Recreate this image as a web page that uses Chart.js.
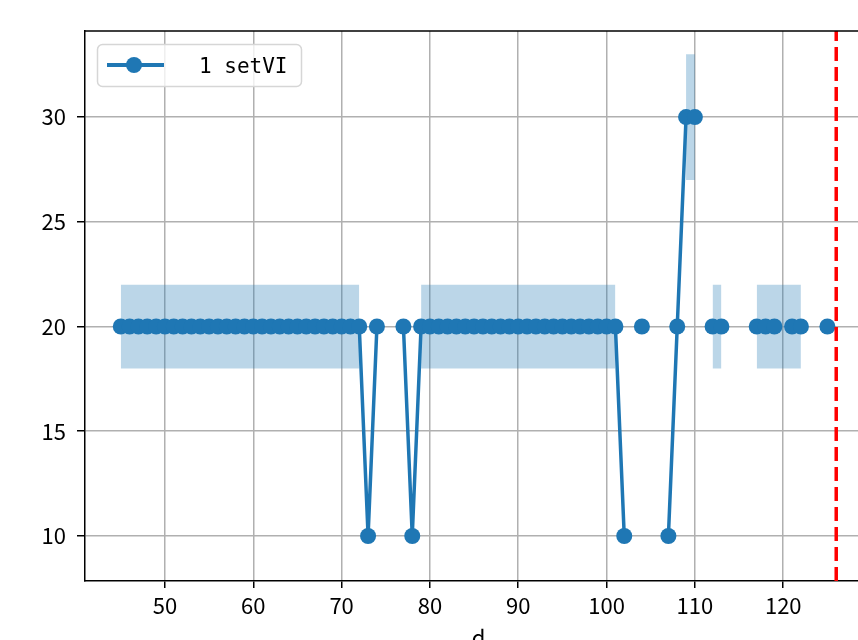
<!DOCTYPE html>
<html>
<head>
<meta charset="utf-8">
<script src="https://cdn.jsdelivr.net/npm/chart.js@4/dist/chart.umd.min.js"></script>
<style>
  html, body { margin: 0; padding: 0; background: #fff; overflow: hidden; }
  #wrap { width: 858px; height: 640px; overflow: hidden; }
</style>
</head>
<body>
<div id="wrap"><canvas id="myChart" width="880" height="640"></canvas></div>
<script>
// x positions (d) and series values, null = no sample
const days = [];
for (let d = 45; d <= 125; d++) days.push(d);

const setVI = [
  20,20,20,20,20,20,20,20,20,20, // 45-54
  20,20,20,20,20,20,20,20,20,20, // 55-64
  20,20,20,20,20,20,20,20,       // 65-72
  10,20,null,null,20,10,         // 73-78
  20,20,20,20,20,20,20,20,20,20, // 79-88
  20,20,20,20,20,20,20,20,20,20, // 89-98
  20,20,20,                      // 99-101
  10,null,20,null,null,10,20,30,30,null, // 102-111
  20,20,null,null,null,20,20,20,null,20,20, // 112-122
  null,null,20                   // 123-125
];

// shaded band (lower / upper), only on runs
const bandLow = [];
const bandHigh = [];
const bandRuns = [[45, 72, 18, 22], [79, 101, 18, 22], [109, 110, 27, 33], [112, 113, 18, 22], [117, 122, 18, 22]];
for (const d of days) {
  const run = bandRuns.find(r => d >= r[0] && d <= r[1]);
  bandLow.push(run ? run[2] : null);
  bandHigh.push(run ? run[3] : null);
}

const xTicks = [50, 60, 70, 80, 90, 100, 110, 120];
const yTicks = [10, 15, 20, 25, 30];
const vlineX = 126;
const legendLabel = '1 setVI';

const blue = '#1f77b4';
const tickFont = { family: '"Noto Sans CJK SC", "DejaVu Sans", sans-serif', size: 22 };

const toPts = arr => days.map((d, i) => ({ x: d, y: arr[i] }));

const extras = {
  id: 'extras',
  afterDatasetsDraw(chart) {
    const ctx = chart.ctx;
    const a = chart.chartArea;
    const xs = chart.scales.x;
    // red dashed vertical line
    const px = xs.getPixelForValue(vlineX);
    ctx.save();
    ctx.beginPath();
    ctx.rect(a.left, a.top, a.right - a.left, a.bottom - a.top);
    ctx.clip();
    ctx.strokeStyle = '#ff0000';
    ctx.lineWidth = 3.5;
    ctx.setLineDash([14, 6]);
    ctx.beginPath();
    ctx.moveTo(px, a.bottom);
    ctx.lineTo(px, a.top);
    ctx.stroke();
    ctx.restore();
  },
  afterDraw(chart) {
    const ctx = chart.ctx;
    const a = chart.chartArea;
    ctx.save();
    // top spine
    ctx.strokeStyle = '#000';
    ctx.lineWidth = 1.5;
    ctx.beginPath();
    ctx.moveTo(a.left - 0.75, a.top);
    ctx.lineTo(a.right, a.top);
    ctx.stroke();

    // legend box
    const bx = 97.5, by = 44.5, bw = 204, bh = 42, r = 5;
    ctx.beginPath();
    ctx.moveTo(bx + r, by);
    ctx.arcTo(bx + bw, by, bx + bw, by + bh, r);
    ctx.arcTo(bx + bw, by + bh, bx, by + bh, r);
    ctx.arcTo(bx, by + bh, bx, by, r);
    ctx.arcTo(bx, by, bx + bw, by, r);
    ctx.closePath();
    ctx.fillStyle = 'rgba(255,255,255,0.8)';
    ctx.fill();
    ctx.strokeStyle = '#d6d6d6';
    ctx.lineWidth = 1.5;
    ctx.stroke();

    ctx.strokeStyle = blue;
    ctx.lineWidth = 4;
    ctx.beginPath();
    ctx.moveTo(107, 65);
    ctx.lineTo(164, 65);
    ctx.stroke();
    ctx.fillStyle = blue;
    ctx.beginPath();
    ctx.arc(134, 65, 8, 0, Math.PI * 2);
    ctx.fill();

    ctx.fillStyle = '#000';
    ctx.font = '21px "DejaVu Sans Mono", monospace';
    ctx.textBaseline = 'alphabetic';
    ctx.textAlign = 'left';
    ctx.fillText(legendLabel, 199, 73);

    // x axis title, clipped by the page bottom
    ctx.font = '22px "Noto Sans CJK SC", sans-serif';
    ctx.textAlign = 'center';
    ctx.textBaseline = 'top';
    ctx.fillText('d', (a.left + a.right) / 2, 627);
    ctx.restore();
  }
};

new Chart(document.getElementById('myChart').getContext('2d'), {
  type: 'line',
  data: {
    datasets: [
      {
        label: legendLabel,
        data: toPts(setVI),
        borderColor: blue,
        backgroundColor: blue,
        borderWidth: 3.5,
        pointRadius: 8,
        pointBorderWidth: 0,
        pointBackgroundColor: blue,
        spanGaps: false,
        fill: false
      },
      {
        label: 'upper',
        data: toPts(bandHigh),
        borderWidth: 0,
        pointRadius: 0,
        spanGaps: false,
        backgroundColor: 'rgba(31,119,180,0.3)',
        fill: '+1'
      },
      {
        label: 'lower',
        data: toPts(bandLow),
        borderWidth: 0,
        pointRadius: 0,
        spanGaps: false,
        fill: false
      }
    ]
  },
  options: {
    responsive: false,
    animation: false,
    layout: { padding: { top: 31, right: 8, left: 0, bottom: 0 } },
    plugins: {
      legend: { display: false },
      tooltip: { enabled: false },
      filler: { propagate: false }
    },
    scales: {
      x: {
        type: 'linear',
        min: 40.95,
        max: 130.05,
        afterFit: s => { s.height = 59; },
        afterBuildTicks: s => { s.ticks = xTicks.map(v => ({ value: v })); },
        ticks: { color: '#000', font: tickFont, padding: 4, includeBounds: false, maxRotation: 0 },
        grid: { color: '#b0b0b0', lineWidth: 1.5, tickColor: '#000', tickLength: 7, tickWidth: 1.5 },
        border: { color: '#000', width: 1.5 }
      },
      y: {
        min: 7.85,
        max: 34.11,
        afterFit: s => { s.width = 85; },
        afterBuildTicks: s => { s.ticks = yTicks.map(v => ({ value: v })); },
        ticks: { color: '#000', font: tickFont, padding: 11, includeBounds: false },
        grid: { color: '#b0b0b0', lineWidth: 1.5, tickColor: '#000', tickLength: 8, tickWidth: 1.5 },
        border: { color: '#000', width: 1.5 }
      }
    }
  },
  plugins: [extras]
});
</script>
</body>
</html>
